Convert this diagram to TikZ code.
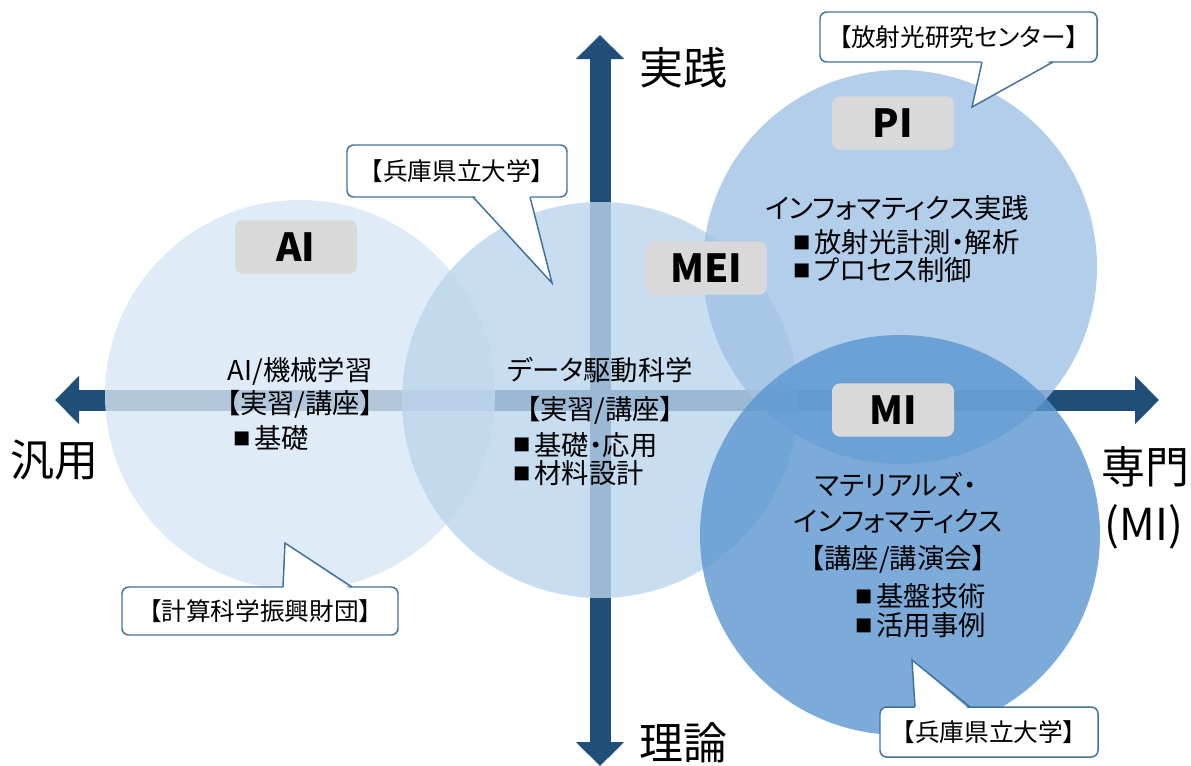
\documentclass[tikz,border=0pt]{standalone}
\usepackage{fontspec}
\setmainfont{Noto Sans CJK JP}[RawFeature={+palt}]
\usetikzlibrary{arrows.meta}

\definecolor{axisblue}{HTML}{1F4E79}
\definecolor{aifill}{RGB}{215,230,245}
\definecolor{ddfill}{RGB}{187,212,236}
\definecolor{pifill}{RGB}{160,194,229}
\definecolor{mifill}{RGB}{91,150,209}
\definecolor{taggray}{HTML}{D9D9D9}
\definecolor{noteline}{HTML}{41719C}

\newcommand{\sqmark}{\raisebox{2.5pt}{\fontsize{13}{13}\selectfont ■}\hspace{3pt}}

\begin{document}
\begin{tikzpicture}[x=0.75pt,y=-0.75pt]
        \tikzstyle{every node}=[inner sep=0pt, font=\fontsize{20.5}{24}\selectfont]
        \tikzset{
            axis/.style={draw=axisblue, line width=15.75pt,
                {Triangle[length=18pt,width=35pt]}-{Triangle[length=18pt,width=35pt]}},
            circ/.style={circle, fill opacity=0.8, draw=none},
            tag/.style={fill=taggray, rounded corners=6pt, minimum width=91.5pt, minimum height=40pt,
                font=\fontsize{29}{32}\selectfont\bfseries},
            txt/.style={text=black},
            big/.style={font=\fontsize{33}{36}\selectfont},
            note/.style={draw=noteline, line width=1.1pt, fill=white, rounded corners=5pt,
                font=\fontsize{18.5}{22}\selectfont},
            ptr/.style={draw=noteline, line width=1.1pt, line join=miter}
        }
        \useasboundingbox (0,0) rectangle (1191,765);

        % axes
        \coordinate (ax_w) at (55,400);
        \coordinate (ax_e) at (1159,400);
        \coordinate (ax_n) at (600,35);
        \coordinate (ax_s) at (600,766);
        \draw[axis] (ax_w) -- (ax_e);
        \draw[axis] (ax_s) -- (ax_n);

        % circles
        \foreach \nm/\cx/\cy/\rr/\col in {ai/300/395/195/aifill, dd/600/400/198/ddfill, pi/900/267/197/pifill, mi/900/535/200/mifill} {
            \node[circ, fill=\col, minimum size=2*\rr*0.75pt] (c_\nm) at (\cx,\cy) {};
        }

        % labels
        \node[tag] (tag_ai) at (296,247) {AI};
        \node[tag] (tag_mei) at (706,268) {MEI};
        \node[tag] (tag_pi) at (893,123) {PI};
        \node[tag] (tag_mi) at (893,410) {MI};

        \node[txt] (ai_1) at (300,371) {AI/機械学習};
        \node[txt] (ai_2) at (300,404) {【実習/講座】};
        \node[txt, anchor=west] (ai_3) at (233,438) {\sqmark 基礎};

        \node[txt] (dd_1) at (600,370) {データ駆動科学};
        \node[txt] (dd_2) at (600,410) {【実習/講座】};
        \node[txt, anchor=west] (dd_3) at (513,445) {\sqmark 基礎・応用};
        \node[txt, anchor=west] (dd_4) at (513,473) {\sqmark 材料設計};

        \node[txt] (pi_1) at (897,208) {インフォマティクス実践};
        \node[txt, anchor=west] (pi_2) at (793,242) {\sqmark 放射光計測・解析};
        \node[txt, anchor=west] (pi_3) at (793,270) {\sqmark プロセス制御};

        \node[txt] (mi_1) at (896,485) {マテリアルズ・};
        \node[txt] (mi_2) at (898,522) {インフォマティクス};
        \node[txt] (mi_3) at (898,559) {【講座/講演会】};
        \node[txt, anchor=west] (mi_4) at (855,596) {\sqmark 基盤技術};
        \node[txt, anchor=west] (mi_5) at (855,625) {\sqmark 活用事例};

        % axis names
        \node[big] (lb_n) at (683,68) {実践};
        \node[big] (lb_s) at (683,743) {理論};
        \node[big] (lb_w) at (54,460) {汎用};
        \node[big] (lb_e1) at (1145,467) {専門};
        \node[big] (lb_e2) at (1144,527) {(MI)};

        % callouts
        \node[note, minimum width=207.75pt, minimum height=37.5pt] (n_sr) at (958.5,37) {【放射光研究センター】};
        \node[note, minimum width=165pt, minimum height=39pt] (n_hs) at (457,171) {【兵庫県立大学】};
        \node[note, minimum width=207pt, minimum height=36pt] (n_cs) at (260,611) {【計算科学振興財団】};
        \node[note, minimum width=163.5pt, minimum height=37.5pt] (n_hb) at (989,732) {【兵庫県立大学】};

        \coordinate (t_sr) at (972,107);
        \coordinate (t_hs) at (552,283);
        \coordinate (t_cs) at (285,543);
        \coordinate (t_hb) at (912,660);

        \fill[white] (982,59) -- (t_sr) -- (1053,59) -- cycle;
        \draw[ptr] (982,62) -- (t_sr) -- (1053,62);
        \fill[white] (473,194) -- (t_hs) -- (530,194) -- cycle;
        \draw[ptr] (473,197) -- (t_hs) -- (530,197);
        \fill[white] (283,590) -- (t_cs) -- (352,590) -- cycle;
        \draw[ptr] (283,587) -- (t_cs) -- (352,587);
        \fill[white] (915,710) -- (t_hb) -- (970,710) -- cycle;
        \draw[ptr] (915,707) -- (t_hb) -- (970,707);
\end{tikzpicture}
\end{document}
